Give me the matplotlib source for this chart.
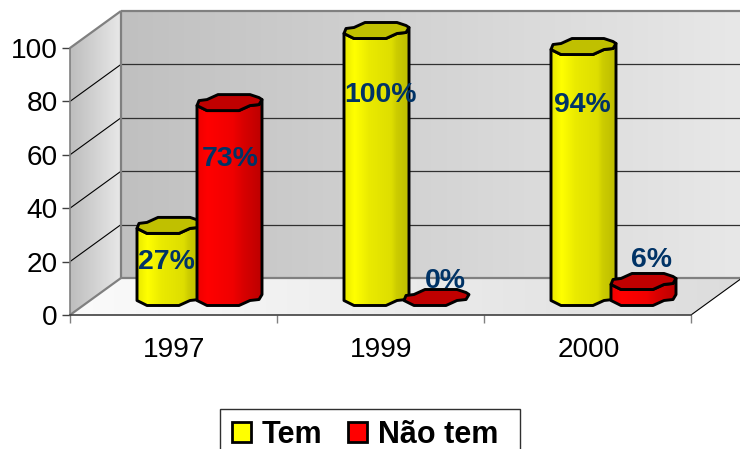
import numpy as np
import matplotlib
matplotlib.use("Agg")
import matplotlib.pyplot as plt
from matplotlib.patches import Polygon, Patch, Rectangle
from matplotlib.colors import LinearSegmentedColormap

# ---- data ----
years = ["1997", "1999", "2000"]
tem = [27, 100, 94]
nao_tem = [73, 0, 6]
series_names = ["Tem", "Não tem"]
y_ticks = [0, 20, 40, 60, 80, 100]

# ---- style ----
plt.rcParams["font.family"] = ["Liberation Sans", "DejaVu Sans"]
W, H = 740, 449
L, R, T, B = 70, 691, 48, 315
fig = plt.figure(figsize=(W / 100, H / 100), dpi=100)
ax = fig.add_axes([L / W, 1 - B / H, (R - L) / W, (B - T) / H])
ax.set_xlim(0, len(years))
ax.set_ylim(0, 100)
ax.patch.set_visible(False)
PX = (len(years)) / (R - L)      # data x per pixel
PY = 100 / (B - T)               # data y per pixel
DX, DY = 51 * PX, 37 * PY        # oblique depth vector


def gradient(verts, stops, z=1):
    """Fill a polygon with a horizontal gradient clipped to the polygon."""
    verts = np.asarray(verts)
    cmap = LinearSegmentedColormap.from_list("g", stops)
    x0, x1 = verts[:, 0].min(), verts[:, 0].max()
    y0, y1 = verts[:, 1].min(), verts[:, 1].max()
    im = ax.imshow(np.linspace(0, 1, 256)[None, :], cmap=cmap, aspect="auto",
                   extent=[x0, x1, y0, y1], zorder=z, interpolation="bilinear")
    poly = Polygon(verts, closed=True, transform=ax.transData, fc="none", ec="none")
    im.set_clip_box(fig.bbox)
    im.set_clip_path(poly)
    return im


def line(xs, ys, color="black", lw=1.0, z=2):
    ax.plot(xs, ys, color=color, lw=lw, zorder=z, clip_on=False, solid_capstyle="butt")


n = len(years)
GREY = "#808080"
# walls and floor
gradient([(0, 0), (DX, DY), (DX, 100 + DY), (0, 100)], [(0, "#bdbdbd"), (1, "#e8e8e8")])
gradient([(DX, DY), (n + DX, DY), (n + DX, 100 + DY), (DX, 100 + DY)],
         [(0, "#c0c0c0"), (1, "#e8e8e8")])
gradient([(0, 0), (n, 0), (n + DX, DY), (DX, DY)], [(0, "#fbfbfb"), (1, "#dcdcdc")])

# gridlines
for v in y_ticks[1:-1]:
    line([0, DX], [v, v + DY], lw=0.8)
    line([DX, n + DX], [v + DY, v + DY], color="#303030", lw=0.9)
# frame of the 3-D box
line([0, DX], [100, 100 + DY], GREY, 1.6)
line([0, DX], [0, DY], GREY, 1.6)
line([DX, DX], [DY, 100 + DY], GREY, 1.6)
line([DX, n + DX], [100 + DY, 100 + DY], GREY, 1.6)
line([DX, n + DX], [DY, DY], GREY, 1.6)
line([n, n + DX], [0, DY], "black", 0.8)

# octagonal bar cross-section, offsets in pixels from front-left corner
FRONT = [(0, -5), (10, 0), (42, 0), (53, -5), (62, -6), (65, -11)]
BACK = [(62, -13), (53, -16), (21, -16), (10, -11), (2, -10)]
BASE_PX = 9.5        # front of the bars above the front floor edge
GROUP_PX = 67        # left edge of the group from the category start
STEP_PX = 60         # shift of the second series


def bar(i, shift, value, stops, cap, z):
    x0 = i + (GROUP_PX + shift) * PX
    base = BASE_PX * PY
    top = base + value
    def pts(off, level):
        return [(x0 + a * PX, level - b * PY) for a, b in off]
    if value > 0:
        body = pts(FRONT, base) + pts(FRONT[::-1], top)
        gradient(body, stops, z)
        ax.add_patch(Polygon(body, closed=True, fc="none", ec="black", lw=2.1, zorder=z + 0.1,
                             clip_on=False, joinstyle="round"))
    ax.add_patch(Polygon(pts(FRONT + BACK, top), closed=True, fc=cap, ec="black", lw=2.1,
                         zorder=z + 0.2, clip_on=False, joinstyle="round"))


YEL = [(0, "#e8e800"), (0.16, "#ffff00"), (0.38, "#eaea00"), (0.72, "#dede00"), (0.8, "#cccc00"), (1, "#bcbc00")]
RED = [(0, "#ee0000"), (0.16, "#ff0000"), (0.55, "#f00000"), (0.72, "#d80000"), (1, "#bc0000")]
for i in range(n):
    bar(i, 0, tem[i], YEL, "#c0c000", 3 + i)
    bar(i, STEP_PX, nao_tem[i], RED, "#c00000", 3.5 + i)

# value labels: pixel offsets from the bar tops (drop: + = below) and from the bar left edge
label_drop_tem = [29, 56, 50]
label_drop_nao = [48, -24, -29]
label_cx_tem = [29, 36, 31]
label_cx_nao = [33, 41, 41]
NAVY = "#003366"
for i in range(n):
    for vals, shift, drops, cxs in ((tem, 0, label_drop_tem, label_cx_tem),
                                    (nao_tem, STEP_PX, label_drop_nao, label_cx_nao)):
        x = i + (GROUP_PX + shift + cxs[i]) * PX
        y = BASE_PX * PY + vals[i]
        ax.annotate(f"{vals[i]}%", xy=(x, y), xytext=(0, -drops[i] * 0.72), textcoords="offset points",
                    ha="center", va="center", fontsize=20.4, fontweight="bold", color=NAVY,
                    zorder=20, annotation_clip=False)

# axes
for s in ("top", "right"):
    ax.spines[s].set_visible(False)
for s in ("left", "bottom"):
    ax.spines[s].set_color(GREY)
    ax.spines[s].set_linewidth(1.2)
    ax.spines[s].set_zorder(2.5)
ax.spines["bottom"].set_color("#404040")
ax.set_yticks(y_ticks)
ax.set_xticks(np.arange(n + 1))
ax.set_xticklabels([])
ax.set_xticks(np.arange(n) + 0.505, minor=True)
ax.set_xticklabels(years, minor=True)
ax.tick_params(axis="y", length=6, width=1, color="#404040", labelsize=20.2, pad=3)
ax.tick_params(axis="x", which="major", length=6, width=1, color=GREY)
ax.tick_params(axis="x", which="minor", length=0, labelsize=20.2, pad=16)

# legend (runs off the bottom of the picture as in the source)
handles = [Patch(fc="#ffff00", ec="black", lw=2.0), Patch(fc="#ff0000", ec="black", lw=2.0)]
leg = fig.legend(handles, series_names, ncol=2, loc="upper left",
                 bbox_to_anchor=(220 / W, 1 - 407.5 / H), borderaxespad=0, borderpad=0.4,
                 prop={"size": 22, "weight": "bold"}, handlelength=0.62, handleheight=0.62,
                 handletextpad=0.35, columnspacing=0.85, fancybox=False, frameon=False)
fig.add_artist(Rectangle((220 / W, -0.1), 300 / W, 0.1 + 1 - 409 / H, transform=fig.transFigure,
                         fc="none", ec="#303030", lw=1.0))

fig.savefig("out.png", dpi=100, facecolor="white")
